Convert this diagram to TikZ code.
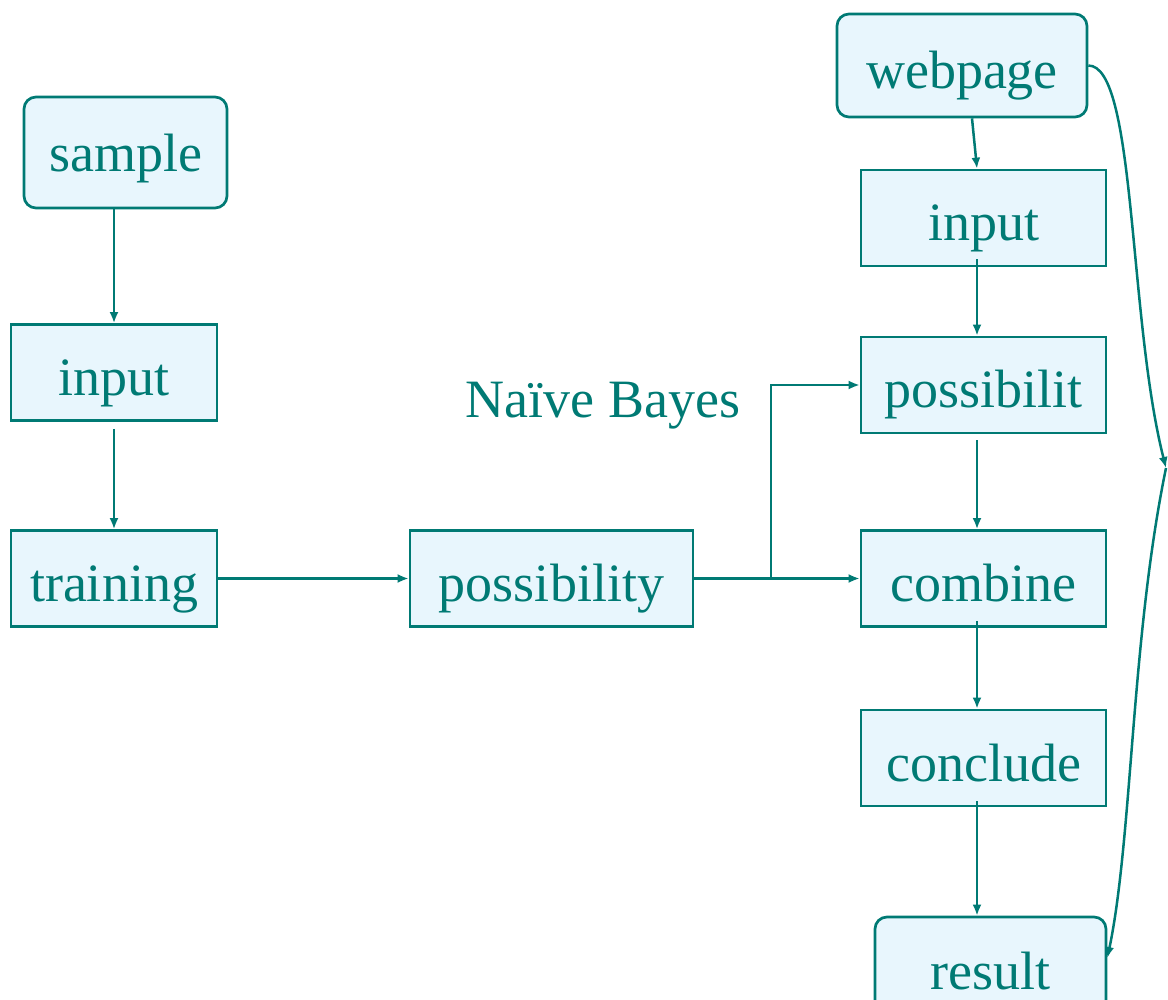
\documentclass[tikz,border=0pt]{standalone}
\usepackage{fontspec}
\setmainfont{Liberation Serif}
\usetikzlibrary{arrows.meta,calc}

\definecolor{nbline}{HTML}{007A74}
\definecolor{nbfill}{HTML}{E8F6FD}

\begin{document}
\begin{tikzpicture}[
  x=0.5pt, y=-0.5pt,
  font=\fontsize{27}{32}\selectfont,
  box/.style={draw=nbline, fill=nbfill, line width=1.35pt, text=nbline, minimum height=48pt,
    inner sep=2pt, text height=29pt, text depth=6pt},
  rbox/.style={box, rounded corners=6pt},
  arr/.style={-{Latex[length=5.5pt,width=4.5pt]}, draw=nbline, line width=1.25pt}
]
  \useasboundingbox (0,0) rectangle (1168,1000);

  % training column
  \node[rbox, minimum width=101.5pt, minimum height=55.5pt, text height=25pt] (smp) at (125.5,152.5) {sample};
  \node[box, minimum width=103pt] (in1) at (114,372.5) {input};
  \node[box, minimum width=103pt] (trn) at (114,578.5) {training};
  \node[box, minimum width=141.5pt] (pos) at (551.5,578.5) {possibility};
  \node[text=nbline] (nb) at (603,406) {Naïve Bayes};

  % classifying column
  \node[rbox, minimum width=125pt, minimum height=51.5pt] (web) at (962,65.5) {webpage};
  \node[box, minimum width=122.5pt] (in2) at (983.5,218) {input};
  \node[box, minimum width=122.5pt] (pb) at (983.5,385) {possibilit};
  \node[box, minimum width=122.5pt] (cmb) at (983.5,578.5) {combine};
  \node[box, minimum width=122.5pt] (ccl) at (983.5,758) {conclude};
  \node[rbox, minimum width=115.5pt, minimum height=49pt] (res) at (990.5,966) {result};

  \coordinate (rx) at (977,0);
  \coordinate (fork) at (771,578.5);
  \coordinate (edge) at (1166,468);

  \draw[arr] (in1 |- smp.south) -- (in1.north);
  \draw[arr, shorten <=3.5pt] (in1.south) -- (trn.north);
  \draw[arr] (trn.east) -- (pos.west);
  \draw[arr] (pos.east) -- (cmb.west);
  \draw[arr] (fork) |- (pb.west);

  \draw[arr] (972,0 |- web.south) -- (rx |- in2.north);
  \draw[arr, shorten <=-4pt] (rx |- in2.south) -- (rx |- pb.north);
  \draw[arr, shorten <=3pt] (rx |- pb.south) -- (rx |- cmb.north);
  \draw[arr, shorten <=-3.5pt] (rx |- cmb.south) -- (rx |- ccl.north);
  \draw[arr, shorten <=-3pt] (rx |- ccl.south) -- (rx |- res.north);

  % link back from the page to the result
  \draw[arr] (web.east) .. controls +(48,0) and +(-38,-150) .. (edge);
  \draw[arr] (edge) .. controls +(-35,170) and +(25,-120) .. ($(res.east)+(0,-8)$);
\end{tikzpicture}
\end{document}
